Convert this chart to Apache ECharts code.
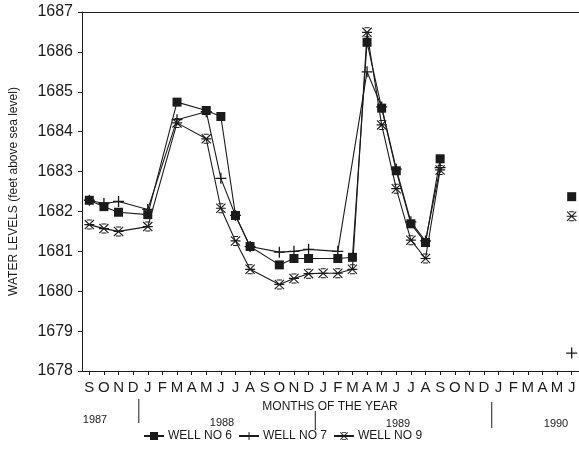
<!DOCTYPE html>
<html>
<head>
<meta charset="utf-8">
<script src="https://cdn.jsdelivr.net/npm/echarts@6/dist/echarts.min.js"></script>
<style>
html,body{margin:0;padding:0;background:#fff;}
#c{width:579px;height:455px;}
</style>
</head>
<body>
<div id="c"></div>
<script>
// Months Sep 1987 .. Jun 1990
const months = ['S','O','N','D','J','F','M','A','M','J','J','A','S','O','N','D','J','F','M','A','M','J','J','A','S','O','N','D','J','F','M','A','M','J'];
const yearLabels = ['1987','1988','1989','1990'];
const yTicks = [1678,1679,1680,1681,1682,1683,1684,1685,1686,1687];

const well6 = [1682.28,1682.12,1681.98,null,1681.92,null,1684.74,null,1684.53,1684.38,1681.90,1681.12,null,1680.66,1680.82,1680.82,null,1680.82,1680.85,1686.24,1684.59,1683.02,1681.69,1681.22,1683.32,null,null,null,null,null,null,null,null,1682.37];
const well7 = [1682.28,1682.20,1682.25,null,1682.05,null,1684.30,null,1684.50,1682.83,1681.90,1681.12,null,1680.98,1681.00,1681.05,null,1681.00,null,1685.50,1684.62,1683.06,1681.74,1681.26,1683.10,null,null,null,null,null,null,null,null,1678.45];
const well9 = [1681.67,1681.57,1681.50,null,1681.62,null,1684.22,null,1683.82,1682.08,1681.26,1680.55,null,1680.17,1680.32,1680.44,1680.45,1680.45,1680.55,1686.49,1684.17,1682.57,1681.28,1680.82,1683.04,null,null,null,null,null,null,null,null,1681.88];

const lastConnected = 24; // Sep 1989: lines stop here, Jun 1990 readings stand alone

const GL = 81, GT = 12, GW = 500, GH = 359;
const bw = GW / months.length;

function linePart(arr){ const out=[]; arr.forEach((v,i)=>{ if(v!==null && i<=lastConnected) out.push([i,v]); }); return out; }
function loosePart(arr){ const out=[]; arr.forEach((v,i)=>{ if(v!==null && i>lastConnected) out.push([i,v]); }); return out; }

const INK = '#1b1b1b';
const sym6 = 'rect';
const sym7 = 'path://M4.4,0h1.2v4.4h4.4v1.2h-4.4v4.4h-1.2v-4.4h-4.4v-1.2h4.4z';
const sym9 = 'path://M0,0.8L0.8,0L10,9.2L9.2,10Z M9.2,0L10,0.8L0.8,10L0,9.2Z M0,4.4h10v1.2h-10z M2.5,0h5v1h-5z M2.5,9h5v1h-5z';

const wells = [
  {name:'WELL NO 6', data:well6, symbol:sym6, size:9},
  {name:'WELL NO 7', data:well7, symbol:sym7, size:11},
  {name:'WELL NO 9', data:well9, symbol:sym9, size:10}
];

const series = [];
wells.forEach(w=>{
  series.push({
    name:w.name, type:'line', data:linePart(w.data),
    symbol:w.symbol, symbolSize:w.size, showAllSymbol:true,
    lineStyle:{color:INK, width:1.1}, itemStyle:{color:INK, borderWidth:0},
    animation:false, z:3
  });
  series.push({
    name:w.name+' (1990)', type:'line', data:loosePart(w.data),
    symbol:w.symbol, symbolSize:w.size, showAllSymbol:true,
    lineStyle:{color:INK, width:1.1}, itemStyle:{color:INK, borderWidth:0},
    animation:false, z:3
  });
});

const FONT = '"Liberation Sans", Arial, Helvetica, sans-serif';
const graphic = [];
// year separators between December and January
[4,16,28].forEach((k,j)=>{
  const x = GL + k*bw - 1;
  const tops = [399,411,402];
  const bots = [423,430,428];
  graphic.push({type:'line', shape:{x1:x,y1:tops[j],x2:x,y2:bots[j]}, style:{stroke:INK, lineWidth:1}});
});
const yearPos = [[95,420],[222,423],[398,424],[556,424]];
yearLabels.forEach((t,i)=>{
  graphic.push({type:'text', x:yearPos[i][0], y:yearPos[i][1], style:{text:t, fill:INK, font:'11px '+FONT, align:'center', verticalAlign:'middle'}});
});
graphic.push({type:'text', x:330, y:407, style:{text:'MONTHS OF THE YEAR', fill:INK, font:'12px '+FONT, align:'center', verticalAlign:'middle'}});

const chart = echarts.init(document.getElementById('c'), null, {renderer:'canvas'});
chart.setOption({
  animation:false,
  backgroundColor:'#fff',
  grid:{left:GL, top:GT, width:GW, height:GH, containLabel:false},
  xAxis:[{
    type:'category', data:months, boundaryGap:true, position:'bottom',
    axisLine:{show:true, lineStyle:{color:INK, width:1}},
    axisTick:{show:true, alignWithLabel:true, length:4, lineStyle:{color:INK}},
    axisLabel:{interval:0, margin:9, color:INK, fontSize:15, fontFamily:FONT},
    splitLine:{show:false}
  },{
    type:'category', data:months, boundaryGap:true, position:'top',
    axisLine:{show:true, onZero:false, lineStyle:{color:INK, width:1}},
    axisTick:{show:false}, axisLabel:{show:false}, splitLine:{show:false}
  }],
  yAxis:{
    type:'value', min:yTicks[0], max:yTicks[yTicks.length-1], interval:1,
    name:'WATER LEVELS (feet above sea level)', nameLocation:'middle', nameRotate:90, nameGap:62,
    nameTextStyle:{color:INK, fontSize:12, fontFamily:FONT},
    axisLine:{show:true, lineStyle:{color:INK, width:1}},
    axisTick:{show:true, length:4, lineStyle:{color:INK}},
    axisLabel:{margin:9, color:INK, fontSize:16, fontFamily:FONT, formatter:v=>String(v)},
    splitLine:{show:false}
  },
  legend:{
    data:wells.map(w=>w.name), bottom:8, left:138,
    itemWidth:20, itemHeight:10, itemGap:6,
    textStyle:{color:INK, fontSize:12, fontFamily:FONT, padding:[0,0,0,-1]}
  },
  graphic:graphic,
  series:series
});
</script>
</body>
</html>
